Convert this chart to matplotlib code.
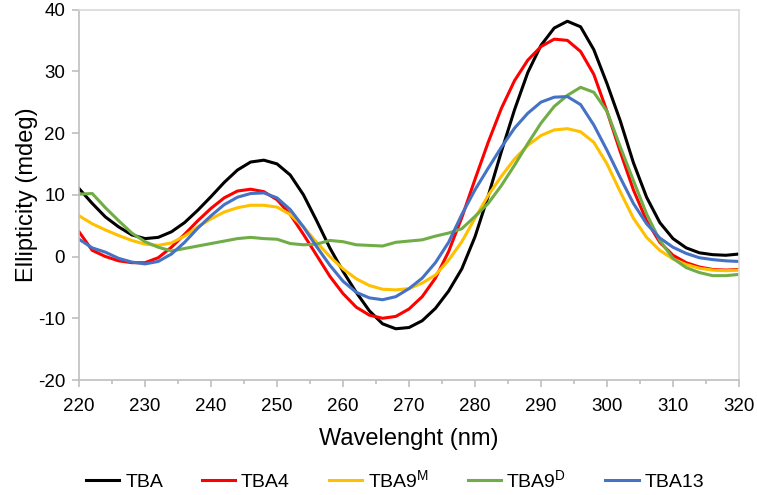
import matplotlib
matplotlib.use('Agg')
import matplotlib.pyplot as plt
import numpy as np

plt.rcParams['font.family'] = ['Liberation Sans', 'DejaVu Sans']
plt.rcParams['mathtext.default'] = 'regular'
plt.rcParams['axes.unicode_minus'] = False

# Longitud de onda (nm)
wavelength = np.arange(220, 322, 2)

# Elipticidad (mdeg)
tba = [11.0, 8.6, 6.4, 4.8, 3.5, 2.9, 3.1, 4.0, 5.5, 7.5,
       9.7, 12.0, 14.0, 15.3, 15.6, 15.0, 13.2, 10.0, 5.8, 1.4,
       -2.4, -5.8, -8.8, -10.9, -11.7, -11.5, -10.4, -8.4, -5.6, -2.0,
       3.2, 9.8, 17.0, 23.8, 29.8, 34.2, 37.0, 38.1, 37.2, 33.5,
       28.0, 22.0, 15.2, 9.6, 5.5, 2.9, 1.4, 0.6, 0.3, 0.2, 0.4]
tba4 = [4.0, 1.0, 0.0, -0.7, -1.0, -1.0, -0.2, 1.5, 3.6, 5.8,
        7.8, 9.5, 10.6, 10.9, 10.5, 9.2, 6.8, 3.6, 0.2, -3.2,
        -6.0, -8.2, -9.5, -10.0, -9.7, -8.5, -6.5, -3.5, 0.8, 6.3,
        12.5, 18.5, 24.0, 28.5, 31.8, 34.0, 35.2, 35.0, 33.2, 29.5,
        23.5, 17.0, 10.8, 5.8, 2.3, 0.2, -1.0, -1.7, -2.1, -2.2, -2.1]
tba9m = [6.6, 5.3, 4.3, 3.4, 2.6, 2.0, 1.8, 2.2, 3.3, 4.8,
         6.1, 7.2, 7.9, 8.3, 8.3, 8.0, 6.8, 4.8, 2.3, 0.0,
         -2.0, -3.6, -4.7, -5.3, -5.4, -5.2, -4.3, -3.0, -0.6, 2.4,
         6.2, 9.9, 13.0, 15.8, 18.0, 19.6, 20.5, 20.7, 20.2, 18.5,
         15.0, 10.5, 6.2, 3.1, 1.0, -0.4, -1.3, -1.9, -2.2, -2.3, -2.2]
tba9d = [10.1, 10.2, 7.9, 5.8, 3.8, 2.4, 1.5, 0.9, 1.3, 1.7,
         2.1, 2.5, 2.9, 3.1, 2.9, 2.8, 2.1, 1.9, 2.0, 2.6,
         2.4, 1.9, 1.8, 1.7, 2.3, 2.5, 2.7, 3.3, 3.8, 4.5,
         6.5, 8.6, 11.5, 14.8, 18.3, 21.6, 24.3, 26.1, 27.4, 26.6,
         23.5, 17.8, 12.3, 6.9, 2.6, -0.3, -1.8, -2.6, -3.1, -3.1, -2.9]
tba13 = [2.8, 1.4, 0.7, -0.3, -0.9, -1.2, -0.8, 0.4, 2.3, 4.6,
         6.6, 8.4, 9.6, 10.2, 10.3, 9.5, 7.6, 4.8, 1.6, -1.4,
         -4.0, -5.8, -6.7, -7.0, -6.5, -5.2, -3.5, -1.0, 2.3, 6.8,
         10.8, 14.3, 17.7, 20.8, 23.2, 25.0, 25.8, 25.9, 24.6, 21.3,
         17.2, 12.8, 8.6, 5.3, 3.0, 1.5, 0.5, -0.2, -0.5, -0.7, -0.8]

series = [tba, tba4, tba9m, tba9d, tba13]
labels = ['TBA', 'TBA4', r'TBA9$^{M}$', r'TBA9$^{D}$', 'TBA13']
colors = ['#000000', '#FF0000', '#FFC000', '#70AD47', '#4472C4']

fig = plt.figure(figsize=(7.57, 4.95), dpi=100)
ax = fig.add_axes([0.1044, 0.2323, 0.8718, 0.7485])

for y, lab, c in zip(series, labels, colors):
    ax.plot(wavelength, y, color=c, lw=2.2, label=lab, solid_joinstyle='round')

ax.set_xlim(220, 320)
ax.set_ylim(-20, 40)
ax.set_xticks(np.arange(220, 321, 10))
ax.set_xticks(np.arange(225, 320, 10), minor=True)
ax.set_yticks(np.arange(-20, 41, 10))

for s in ['left', 'bottom']:
    ax.spines[s].set_color('#BFBFBF')
for s in ['top', 'right']:
    ax.spines[s].set_color('#D9D9D9')
for s in ax.spines.values():
    s.set_linewidth(1.2)

ax.tick_params(axis='both', which='major', length=5, width=1.2, color='#BFBFBF',
               labelsize=13.5, pad=5)
ax.tick_params(axis='x', which='major', pad=8)
ax.tick_params(axis='x', which='minor', length=3, width=1.2, color='#BFBFBF')

ax.set_xlabel('Wavelenght (nm)', fontsize=17, labelpad=9)
ax.set_ylabel('Ellipticity (mdeg)', fontsize=17, labelpad=0)

fig.legend(loc='center', bbox_to_anchor=(0.522, 0.03), ncol=5, frameon=False,
           fontsize=14, handlelength=1.7, handletextpad=0.3, columnspacing=2.0)

plt.savefig('out.png', dpi=100)
